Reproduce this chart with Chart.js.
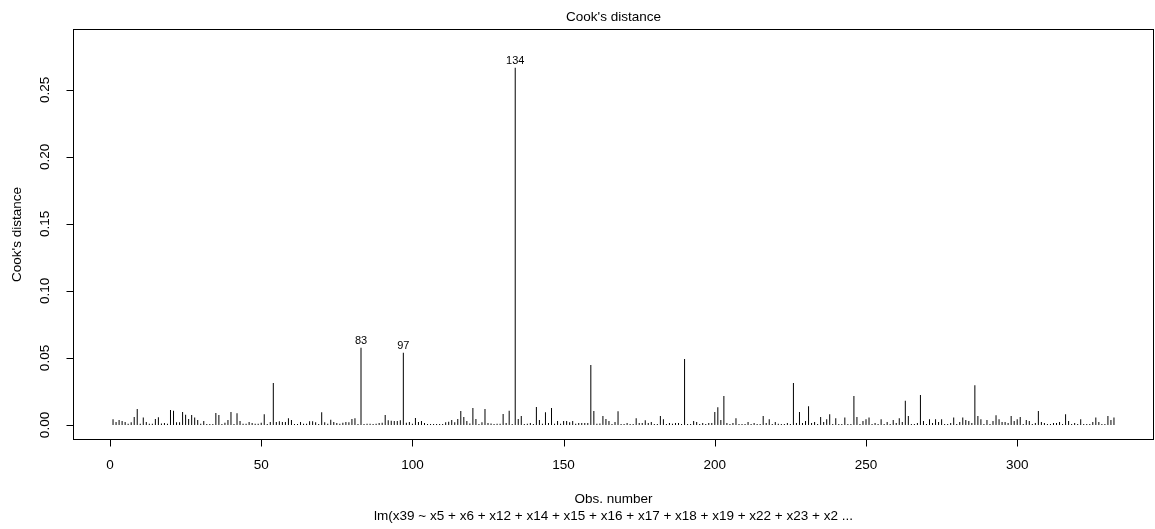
<!DOCTYPE html>
<html>
<head>
<meta charset="utf-8">
<script src="https://cdn.jsdelivr.net/npm/chart.js@4/dist/chart.umd.min.js"></script>
<style>
  html, body { margin: 0; padding: 0; background: #fff; }
  canvas { display: block; }
</style>
</head>
<body>
<canvas id="cookChart" width="1155" height="529"></canvas>
<script>
const cooksD = [
  0.0042, 0.0023, 0.0037, 0.003, 0.0023, 0.001, 0.002, 0.006, 0.012, 0.001,
  0.0055, 0.0023, 0.001, 0.001, 0.0045, 0.0057, 0.0012, 0.0015, 0.001, 0.0112,
  0.0107, 0.002, 0.002, 0.0097, 0.0077, 0.0045, 0.0075, 0.0055, 0.0037, 0.001,
  0.003, 0.0008, 0.0008, 0.0008, 0.009, 0.0075, 0.0008, 0.0017, 0.0037, 0.0097,
  0.0008, 0.0087, 0.003, 0.001, 0.001, 0.0022, 0.0015, 0.001, 0.001, 0.0017,
  0.008, 0.0008, 0.0022, 0.0314, 0.0022, 0.0027, 0.0022, 0.0022, 0.005, 0.0037,
  0.0008, 0.0008, 0.0022, 0.001, 0.001, 0.0027, 0.0027, 0.002, 0.0008, 0.0095,
  0.002, 0.001, 0.004, 0.0022, 0.0015, 0.001, 0.0017, 0.0022, 0.002, 0.0045,
  0.005, 0.0008, 0.0576, 0.0008, 0.001, 0.001, 0.0008, 0.001, 0.0015, 0.0017,
  0.0075, 0.0035, 0.0032, 0.003, 0.003, 0.0035, 0.054, 0.0017, 0.0022, 0.001,
  0.0052, 0.0022, 0.003, 0.0015, 0.0008, 0.0008, 0.0008, 0.0008, 0.0008, 0.0008,
  0.002, 0.0025, 0.0037, 0.002, 0.0045, 0.0105, 0.006, 0.003, 0.0012, 0.0127,
  0.0045, 0.0008, 0.002, 0.012, 0.0015, 0.0012, 0.0008, 0.001, 0.001, 0.0082,
  0.0015, 0.0107, 0.0008, 0.2665, 0.0045, 0.0067, 0.0008, 0.001, 0.0015, 0.0008,
  0.0135, 0.0037, 0.001, 0.0095, 0.0015, 0.0127, 0.001, 0.003, 0.001, 0.003,
  0.003, 0.002, 0.003, 0.001, 0.0015, 0.0015, 0.0015, 0.0015, 0.0448, 0.0105,
  0.001, 0.0012, 0.0067, 0.0045, 0.003, 0.0008, 0.0022, 0.0102, 0.0008, 0.0008,
  0.0015, 0.0008, 0.0008, 0.005, 0.0015, 0.0015, 0.0035, 0.0015, 0.0022, 0.0008,
  0.0008, 0.0067, 0.0042, 0.0008, 0.0015, 0.001, 0.0015, 0.0015, 0.0008, 0.0493,
  0.0008, 0.0008, 0.003, 0.0022, 0.0008, 0.0015, 0.0008, 0.0015, 0.0015, 0.0097,
  0.0132, 0.0037, 0.0216, 0.0015, 0.0008, 0.0015, 0.005, 0.0008, 0.0008, 0.0008,
  0.0022, 0.0008, 0.0015, 0.0008, 0.0008, 0.0067, 0.0015, 0.0042, 0.0008, 0.0022,
  0.001, 0.0008, 0.0008, 0.0015, 0.0008, 0.0313, 0.0015, 0.0097, 0.0015, 0.003,
  0.014, 0.0015, 0.0022, 0.0008, 0.006, 0.0022, 0.0042, 0.008, 0.0008, 0.005,
  0.0008, 0.0008, 0.0055, 0.0008, 0.0008, 0.0216, 0.006, 0.0008, 0.003, 0.0042,
  0.0055, 0.0008, 0.0015, 0.0008, 0.0042, 0.0008, 0.0022, 0.0008, 0.0037, 0.0015,
  0.005, 0.0022, 0.018, 0.0067, 0.0008, 0.0008, 0.0015, 0.0224, 0.003, 0.0008,
  0.0042, 0.0015, 0.0042, 0.0022, 0.0042, 0.0008, 0.0008, 0.0015, 0.0055, 0.0008,
  0.0022, 0.0055, 0.0037, 0.003, 0.0015, 0.0296, 0.0067, 0.0042, 0.0008, 0.0037,
  0.0008, 0.003, 0.0072, 0.0042, 0.0022, 0.0022, 0.0015, 0.0067, 0.003, 0.0042,
  0.006, 0.0008, 0.0037, 0.003, 0.0008, 0.0015, 0.0105, 0.0022, 0.0015, 0.0008,
  0.0008, 0.0015, 0.0015, 0.0022, 0.0008, 0.008, 0.003, 0.0008, 0.0015, 0.0008,
  0.0042, 0.0008, 0.0008, 0.0008, 0.0022, 0.0055, 0.0022, 0.0008, 0.0008, 0.0067,
  0.0037, 0.0055
];

// observations that R labels on the plot
const labeledObs = [134, 83, 97];

const xTicks = [0, 50, 100, 150, 200, 250, 300];
const yTicks = [0, 0.05, 0.1, 0.15, 0.2, 0.25];
const yTickLabels = ["0.00", "0.05", "0.10", "0.15", "0.20", "0.25"];

const titleText = "Cook's distance";
const xTitle = "Obs. number";
const subTitle = "lm(x39 ~ x5 + x6 + x12 + x14 + x15 + x16 + x17 + x18 + x19 + x22 + x23 + x2 ...";
const yTitle = "Cook's distance";

const FONT = '"Liberation Sans", Arial, sans-serif';

let points = [];
for (let i = 0; i < cooksD.length; i++) {
  points.push({ x: i + 1, y: cooksD[i] });
}

// R style axes, box and labels, drawn from the chart scales
const rAxes = {
  id: "rAxes",
  afterDraw(chart) {
    const ctx = chart.ctx;
    const area = chart.chartArea;
    const xs = chart.scales.x;
    const ys = chart.scales.y;
    ctx.save();
    ctx.strokeStyle = "#000";
    ctx.lineWidth = 1;
    ctx.strokeRect(Math.round(area.left) + 0.5, Math.round(area.top) + 0.5,
      Math.round(area.right - area.left) - 1, Math.round(area.bottom - area.top) - 1);

    ctx.fillStyle = "#000";
    ctx.font = "13.5px " + FONT;

    // x axis
    const yb = Math.round(area.bottom) - 0.5;
    ctx.beginPath();
    ctx.moveTo(xs.getPixelForValue(xTicks[0]), yb);
    ctx.lineTo(xs.getPixelForValue(xTicks[xTicks.length - 1]), yb);
    xTicks.forEach((t) => {
      const px = Math.round(xs.getPixelForValue(t)) + 0.5;
      ctx.moveTo(px, yb);
      ctx.lineTo(px, yb + 7);
    });
    ctx.stroke();
    ctx.textAlign = "center";
    ctx.textBaseline = "middle";
    xTicks.forEach((t) => {
      ctx.fillText(String(t), xs.getPixelForValue(t), yb + 26);
    });

    // y axis
    const xl = Math.round(area.left) + 0.5;
    ctx.beginPath();
    ctx.moveTo(xl, ys.getPixelForValue(yTicks[0]));
    ctx.lineTo(xl, ys.getPixelForValue(yTicks[yTicks.length - 1]));
    yTicks.forEach((t) => {
      const py = Math.round(ys.getPixelForValue(t)) + 0.5;
      ctx.moveTo(xl, py);
      ctx.lineTo(xl - 7, py);
    });
    ctx.stroke();
    yTicks.forEach((t, i) => {
      ctx.save();
      ctx.translate(xl - 28, ys.getPixelForValue(t));
      ctx.rotate(-Math.PI / 2);
      ctx.fillText(yTickLabels[i], 0, 0);
      ctx.restore();
    });

    // titles
    const cx = (area.left + area.right) / 2;
    ctx.fillText(titleText, cx, 17);
    ctx.fillText(xTitle, cx, 499);
    ctx.fillText(subTitle, cx, 516);
    ctx.save();
    ctx.translate(17, (area.top + area.bottom) / 2);
    ctx.rotate(-Math.PI / 2);
    ctx.fillText(yTitle, 0, 0);
    ctx.restore();

    // labels on the largest observations
    ctx.font = "11px " + FONT;
    ctx.textBaseline = "bottom";
    labeledObs.forEach((obs) => {
      ctx.fillText(String(obs), xs.getPixelForValue(obs), ys.getPixelForValue(cooksD[obs - 1]) - 1);
    });
    ctx.restore();
  },
};

const ctx = document.getElementById("cookChart").getContext("2d");
new Chart(ctx, {
  type: "bar",
  data: {
    datasets: [
      {
        data: points,
        backgroundColor: "#000",
        borderWidth: 0,
        barThickness: 1,
        inflateAmount: 0,
      },
    ],
  },
  options: {
    responsive: false,
    animation: false,
    layout: { padding: { left: 73, right: 1, top: 29, bottom: 89 } },
    scales: {
      x: { type: "linear", min: -12.24, max: 345.24, offset: false, display: false },
      y: { type: "linear", min: -0.0112, max: 0.2955, display: false },
    },
    plugins: {
      legend: { display: false },
      tooltip: { enabled: false },
      title: { display: false },
    },
  },
  plugins: [rAxes],
});
</script>
</body>
</html>
